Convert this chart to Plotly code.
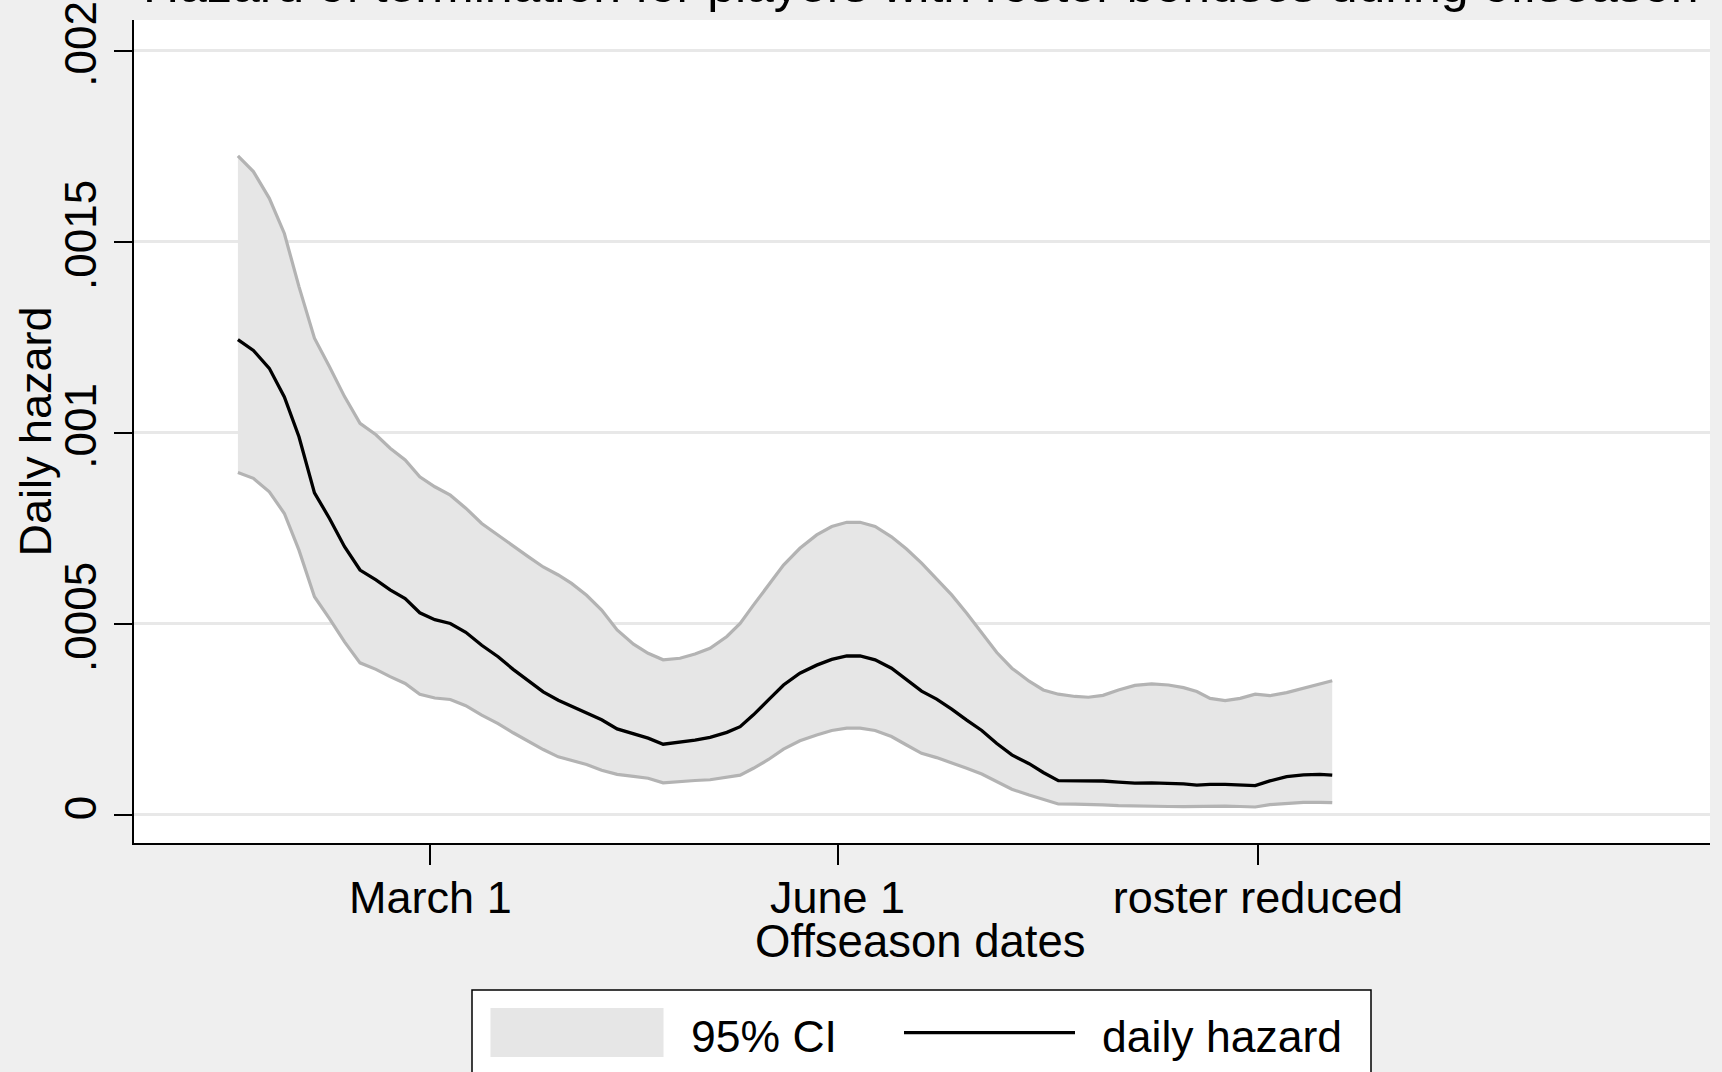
import plotly.graph_objects as go

# Days relative to March 1 (day 0)
day = [-43.5, -40.0, -36.4, -33.0, -29.7, -26.2, -22.8, -19.4, -15.9, -12.3,
       -9.1, -5.7, -2.4, 1.0, 4.5, 8.0, 11.6, 15.3, 18.7, 22.1,
       25.5, 28.9, 31.9, 35.3, 38.7, 42.2, 45.9, 49.2, 52.6, 56.4,
       59.8, 63.2, 67.0, 70.0, 73.0, 76.4, 79.8, 83.5, 87.3, 90.7,
       94.1, 97.1, 100.5, 104.2, 107.6, 111.0, 114.4, 117.8, 121.2, 124.6,
       128.0, 131.4, 135.3, 138.5, 141.9, 145.7, 148.7, 152.0, 155.5, 159.2,
       163.0, 166.8, 170.2, 173.2, 176.2, 179.6, 183.0, 186.4, 189.7, 193.5,
       197.3, 201.0, 203.8]

hazard = [0.001243, 0.001215, 0.001168, 0.001093, 0.000989, 0.000842, 0.000775, 0.000701, 0.000640, 0.000614,
          0.000588, 0.000565, 0.000528, 0.000510, 0.000500, 0.000477, 0.000443, 0.000413, 0.000380, 0.000350,
          0.000321, 0.000299, 0.000284, 0.000266, 0.000248, 0.000224, 0.000212, 0.000200, 0.000184, 0.000189,
          0.000195, 0.000202, 0.000215, 0.000230, 0.000261, 0.000300, 0.000339, 0.000370, 0.000391, 0.000406,
          0.000415, 0.000415, 0.000405, 0.000383, 0.000354, 0.000323, 0.000302, 0.000276, 0.000247, 0.000220,
          0.000186, 0.000156, 0.000133, 0.000110, 0.0000886, 0.0000886, 0.000088, 0.0000877, 0.000085, 0.000082,
          0.000083, 0.000082, 0.000080, 0.000077, 0.000079, 0.000079, 0.000077, 0.0000755, 0.000088, 0.000099,
          0.000104, 0.000105, 0.000103]

ci_upper = [0.001724, 0.001683, 0.001613, 0.001521, 0.001382, 0.001247, 0.001172, 0.001094, 0.001024, 0.000994,
            0.000959, 0.000928, 0.000884, 0.000858, 0.000836, 0.000802, 0.000762, 0.000731, 0.000701, 0.000675,
            0.000648, 0.000627, 0.000605, 0.000574, 0.000535, 0.000483, 0.000446, 0.000422, 0.000405, 0.000409,
            0.000420, 0.000435, 0.000466, 0.000500, 0.000548, 0.000601, 0.000653, 0.000697, 0.000732, 0.000754,
            0.000765, 0.000765, 0.000754, 0.000727, 0.000695, 0.000658, 0.000618, 0.000575, 0.000527, 0.000474,
            0.000424, 0.000383, 0.000349, 0.000326, 0.000315, 0.000309, 0.000307, 0.000312, 0.000326, 0.000338,
            0.000342, 0.000339, 0.000332, 0.000322, 0.000304, 0.000298, 0.000304, 0.000315, 0.000311, 0.000319,
            0.000330, 0.000342, 0.000350]

ci_lower = [0.000895, 0.000880, 0.000845, 0.000788, 0.000692, 0.000570, 0.000513, 0.000452, 0.000397, 0.000380,
            0.000361, 0.000343, 0.000315, 0.000305, 0.000301, 0.000285, 0.000260, 0.000238, 0.000214, 0.000192,
            0.000170, 0.000151, 0.000141, 0.000131, 0.000116, 0.000105, 0.000100, 0.000095, 0.000083, 0.000087,
            0.000089, 0.000091, 0.000097, 0.000103, 0.000121, 0.000144, 0.000171, 0.000193, 0.000208, 0.000220,
            0.000226, 0.000226, 0.000220, 0.000204, 0.000182, 0.000160, 0.000149, 0.000136, 0.000121, 0.000106,
            0.000086, 0.000066, 0.000051, 0.000039, 0.0000275, 0.000027, 0.0000266, 0.000025, 0.000023, 0.000023,
            0.000022, 0.000021, 0.0000205, 0.000021, 0.000023, 0.000022, 0.000021, 0.0000196, 0.000026, 0.000030,
            0.000032, 0.000032, 0.000031]

x_tick_days = [0, 92, 187]
x_tick_labels = ["March 1", "June 1", "roster reduced"]
y_tick_vals = [0, 0.0005, 0.001, 0.0015, 0.002]
y_tick_labels = ["0", ".0005", ".001", ".0015", ".002"]

FONT = "Liberation Sans, Arial, sans-serif"
BG = "#efefef"
CI_FILL = "#e6e6e6"
CI_EDGE = "#b3b3b3"

W, H = 1722, 1072
ML, MR, MT, MB = 134, 12, 20, 229
PW, PH = W - ML - MR, H - MT - MB


def paper_x(px):
    return (px - ML) / PW


def paper_y(py):
    return (H - MB - py) / PH


fig = go.Figure()

fig.add_trace(go.Scatter(
    x=day, y=ci_lower, mode="lines",
    line=dict(color=CI_EDGE, width=3.2),
    showlegend=False, hoverinfo="skip",
))
fig.add_trace(go.Scatter(
    x=day, y=ci_upper, mode="lines",
    line=dict(color=CI_EDGE, width=3.2),
    fill="tonexty", fillcolor=CI_FILL,
    name="95% CI", showlegend=False, hoverinfo="skip",
))
fig.add_trace(go.Scatter(
    x=day, y=hazard, mode="lines",
    line=dict(color="black", width=3.3),
    name="daily hazard", showlegend=False,
))

# Legend drawn as a boxed key below the plot
shapes = [
    dict(type="rect", xref="paper", yref="paper",
         x0=paper_x(472), x1=paper_x(1371), y0=paper_y(1110), y1=paper_y(990),
         fillcolor="white", line=dict(color="black", width=1.5), layer="above"),
    dict(type="rect", xref="paper", yref="paper",
         x0=paper_x(490.5), x1=paper_x(663.5), y0=paper_y(1057), y1=paper_y(1008),
         fillcolor=CI_FILL, line=dict(width=0), layer="above"),
    dict(type="line", xref="paper", yref="paper",
         x0=paper_x(904), x1=paper_x(1075), y0=paper_y(1032.7), y1=paper_y(1032.7),
         line=dict(color="black", width=3.3), layer="above"),
]

annotations = [
    dict(text="Hazard of termination for players with roster bonuses during offseason",
         xref="paper", yref="paper", x=paper_x(920), y=paper_y(-15.5),
         xanchor="center", yanchor="middle", showarrow=False,
         font=dict(family=FONT, size=50, color="black")),
    dict(text="Offseason dates", xref="paper", yref="paper",
         x=paper_x(920), y=paper_y(941), xanchor="center", yanchor="middle",
         showarrow=False, font=dict(family=FONT, size=45.5, color="black")),
    dict(text="Daily hazard", xref="paper", yref="paper",
         x=paper_x(35), y=paper_y(431.5), xanchor="center", yanchor="middle",
         textangle=-90, showarrow=False,
         font=dict(family=FONT, size=45, color="black")),
    dict(text="95% CI", xref="paper", yref="paper",
         x=paper_x(689), y=paper_y(1036.5), xanchor="left", yanchor="middle",
         showarrow=False, font=dict(family=FONT, size=44.5, color="black")),
    dict(text="daily hazard", xref="paper", yref="paper",
         x=paper_x(1100), y=paper_y(1036.5), xanchor="left", yanchor="middle",
         showarrow=False, font=dict(family=FONT, size=44.5, color="black")),
]

fig.update_layout(
    width=W, height=H,
    margin=dict(l=ML, r=MR, t=MT, b=MB, autoexpand=False),
    paper_bgcolor=BG, plot_bgcolor="white",
    font=dict(family=FONT, size=44, color="black"),
    showlegend=False,
    shapes=shapes, annotations=annotations,
)

fig.update_xaxes(
    range=[-66.98, 289.17],
    tickmode="array", tickvals=x_tick_days, ticktext=x_tick_labels,
    ticks="outside", ticklen=20, tickwidth=1.5, tickcolor="black",
    ticklabelstandoff=-6,
    showline=True, linecolor="black", linewidth=2,
    showgrid=False, zeroline=False,
    tickfont=dict(family=FONT, size=45, color="black"),
)
fig.update_yaxes(
    range=[-0.0000746, 0.0020799],
    tickmode="array", tickvals=y_tick_vals, ticktext=y_tick_labels,
    tickangle=-90,
    ticks="outside", ticklen=18, tickwidth=1.5, tickcolor="black",
    showline=True, linecolor="black", linewidth=2,
    showgrid=True, gridcolor="#e8e8e8", gridwidth=2.5,
    zeroline=False,
    tickfont=dict(family=FONT, size=44, color="black"),
)

fig.write_html("out.html")
